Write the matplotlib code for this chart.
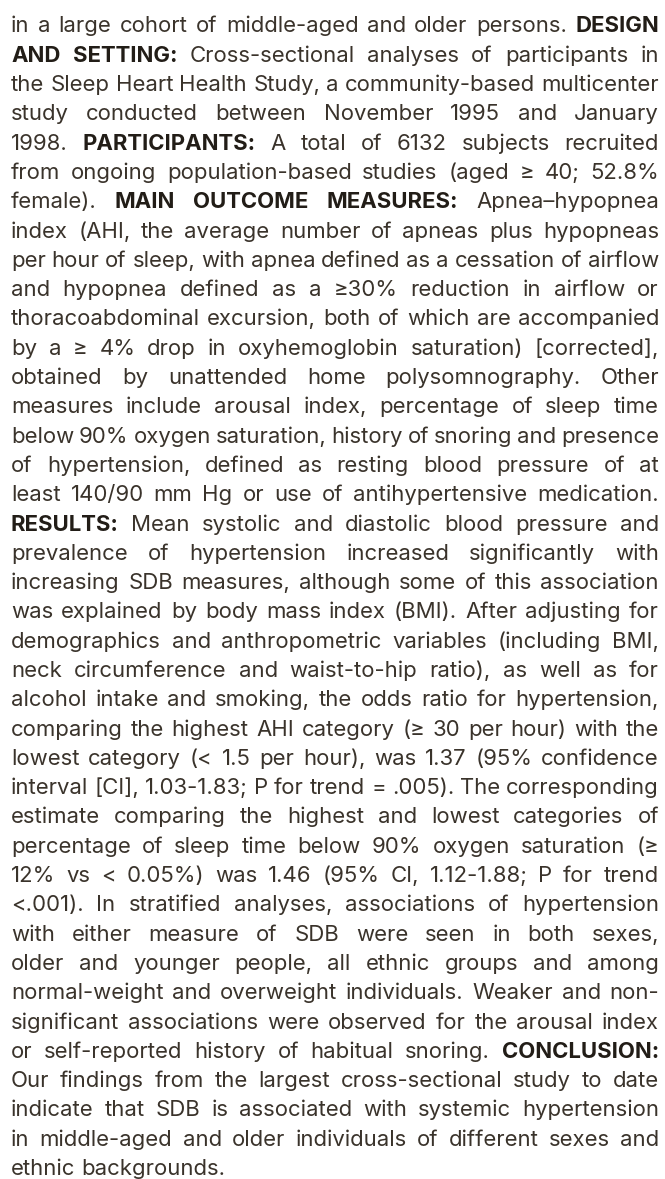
import matplotlib
matplotlib.use('Agg')
import matplotlib.pyplot as plt

# --- text content: one entry per printed line, **...** marks bold runs ---
lines = [
    "in a large cohort of middle-aged and older persons. **DESIGN**",
    "**AND SETTING:** Cross-sectional analyses of participants in",
    "the Sleep Heart Health Study, a community-based multicenter",
    "study conducted between November 1995 and January",
    "1998. **PARTICIPANTS:** A total of 6132 subjects recruited",
    "from ongoing population-based studies (aged \u2265 40; 52.8%",
    "female). **MAIN OUTCOME MEASURES:** Apnea\u2013hypopnea",
    "index (AHI, the average number of apneas plus hypopneas",
    "per hour of sleep, with apnea defined as a cessation of airflow",
    "and hypopnea defined as a \u226530% reduction in airflow or",
    "thoracoabdominal excursion, both of which are accompanied",
    "by a \u2265 4% drop in oxyhemoglobin saturation) [corrected],",
    "obtained by unattended home polysomnography. Other",
    "measures include arousal index, percentage of sleep time",
    "below 90% oxygen saturation, history of snoring and presence",
    "of hypertension, defined as resting blood pressure of at",
    "least 140/90 mm Hg or use of antihypertensive medication.",
    "**RESULTS:** Mean systolic and diastolic blood pressure and",
    "prevalence of hypertension increased significantly with",
    "increasing SDB measures, although some of this association",
    "was explained by body mass index (BMI). After adjusting for",
    "demographics and anthropometric variables (including BMI,",
    "neck circumference and waist-to-hip ratio), as well as for",
    "alcohol intake and smoking, the odds ratio for hypertension,",
    "comparing the highest AHI category (\u2265 30 per hour) with the",
    "lowest category (< 1.5 per hour), was 1.37 (95% confidence",
    "interval [CI], 1.03-1.83; P for trend = .005). The corresponding",
    "estimate comparing the highest and lowest categories of",
    "percentage of sleep time below 90% oxygen saturation (\u2265",
    "12% vs < 0.05%) was 1.46 (95% CI, 1.12-1.88; P for trend",
    "<.001). In stratified analyses, associations of hypertension",
    "with either measure of SDB were seen in both sexes,",
    "older and younger people, all ethnic groups and among",
    "normal-weight and overweight individuals. Weaker and non-",
    "significant associations were observed for the arousal index",
    "or self-reported history of habitual snoring. **CONCLUSION:**",
    "Our findings from the largest cross-sectional study to date",
    "indicate that SDB is associated with systemic hypertension",
    "in middle-aged and older individuals of different sexes and",
    "ethnic backgrounds.",
]

# --- layout (pixels) ---
W, H, DPI = 665, 1179, 100
LEFT, RIGHT = 11, 659
FIRST_BASE, LAST_BASE = 32.5, 1175
FAMILY = ['Inter', 'DejaVu Sans']
CAP_PX = 16.2          # cap height measured on the reference
CAP_EM = 0.727         # Inter cap height / em
MIN_SPACE = 0.8        # justified spaces may shrink to this fraction
COLOR = '#3a332b'
BOLD_COLOR = '#221d17'

fig = plt.figure(figsize=(W / DPI, H / DPI), dpi=DPI)
renderer = fig.canvas.get_renderer()


def split_words(line):
    words = []
    for i, seg in enumerate(line.split('**')):
        for w in seg.split():
            words.append((w, i % 2 == 1))
    return words


def width(s, bold, fs):
    t = fig.text(0, 0, s, fontsize=fs, family=FAMILY,
                 fontweight='bold' if bold else 'normal')
    w = t.get_window_extent(renderer).width
    t.remove()
    return w


# font size: cap height of the reference, unless the tightest line won't fit
fs0 = 20
space0 = width('x x', False, fs0) - width('xx', False, fs0)
widest = 0
for line in lines[:-1]:
    ws = split_words(line)
    nat = sum(width(w, b, fs0) for w, b in ws) + MIN_SPACE * space0 * (len(ws) - 1)
    widest = max(widest, nat)
fs_fit = fs0 * (RIGHT - LEFT) / widest
fs_cap = CAP_PX / CAP_EM * 72 / DPI
fs = min(fs_fit, fs_cap)

space = width('x x', False, fs) - width('xx', False, fs)
step = (LAST_BASE - FIRST_BASE) / (len(lines) - 1)

for k, line in enumerate(lines):
    ws = split_words(line)
    widths = [width(w, b, fs) for w, b in ws]
    if k < len(lines) - 1 and len(ws) > 1:
        gap = (RIGHT - LEFT - sum(widths)) / (len(ws) - 1)
    else:
        gap = space
    x = LEFT
    # snap the baseline to a whole pixel so words on a line stay level
    y = 1 - round(FIRST_BASE + k * step) / H
    for (w, b), wd in zip(ws, widths):
        fig.text(x / W, y, w, fontsize=fs, family=FAMILY, va='baseline',
                 ha='left', fontweight='bold' if b else 'normal',
                 color=BOLD_COLOR if b else COLOR)
        x += wd + gap

fig.savefig('out.png', dpi=DPI, facecolor='white')
